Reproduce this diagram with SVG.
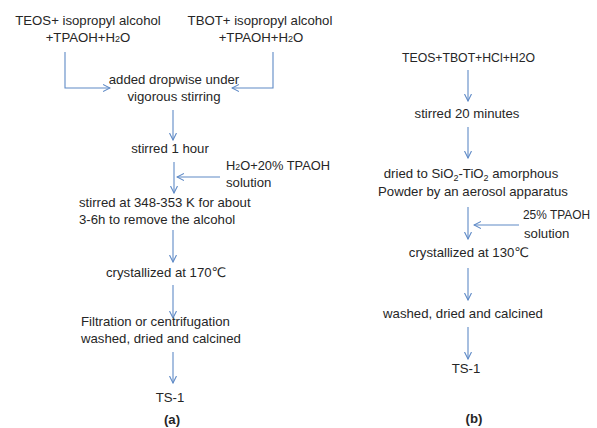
<svg xmlns="http://www.w3.org/2000/svg" width="597" height="428" viewBox="0 0 597 428">
<defs>
<style>
text{font-family:"Liberation Sans","DejaVu Sans",sans-serif;font-size:13.2px;fill:#262626}
.c{text-anchor:middle}
.b{font-weight:bold}
.s{font-size:9px}
.con path{fill:none;stroke:#5f8ac6;stroke-width:1.1}
</style>
<marker id="ah" viewBox="0 0 8 8" refX="7" refY="4" markerWidth="8" markerHeight="8" markerUnits="userSpaceOnUse" orient="auto">
<path d="M0,0.5 L7,4 L0,7.5" fill="none" stroke="#5f8ac6" stroke-width="1.1"/>
</marker>
</defs>
<rect width="597" height="428" fill="#fff"/>
<g class="con">
<path d="M65,52 V88 H110" marker-end="url(#ah)"/>
<path d="M273,52 V88 H232" marker-end="url(#ah)"/>
<path d="M173,110 V140" marker-end="url(#ah)"/>
<path d="M174,162 V193" marker-end="url(#ah)"/>
<path d="M220,177 H177" marker-end="url(#ah)"/>
<path d="M173,230 V262" marker-end="url(#ah)"/>
<path d="M173,285 V318" marker-end="url(#ah)"/>
<path d="M173,352 V383" marker-end="url(#ah)"/>
<path d="M468,70 V101" marker-end="url(#ah)"/>
<path d="M468,127 V158" marker-end="url(#ah)"/>
<path d="M468,207 V239" marker-end="url(#ah)"/>
<path d="M519,225 H474" marker-end="url(#ah)"/>
<path d="M468,268 V300" marker-end="url(#ah)"/>
<path d="M468,327 V359" marker-end="url(#ah)"/>
</g>
<g id="n-teos"><text class="c" x="88" y="25">TEOS+ isopropyl alcohol</text><text class="c" x="88" y="42">+TPAOH+H<tspan class="s">2</tspan>O</text></g>
<g id="n-tbot"><text class="c" x="260" y="25">TBOT+ isopropyl alcohol</text><text class="c" x="261" y="42">+TPAOH+H<tspan class="s">2</tspan>O</text></g>
<g id="n-drop"><text class="c" x="174" y="84">added dropwise under</text><text class="c" x="174" y="101">vigorous stirring</text></g>
<g id="n-stir1"><text class="c" x="170" y="153">stirred 1 hour</text></g>
<g id="n-h2o"><text x="226" y="170" textLength="104" lengthAdjust="spacingAndGlyphs">H<tspan class="s">2</tspan>O+20% TPAOH</text><text x="226" y="187">solution</text></g>
<g id="n-stir2"><text x="79" y="207">stirred at 348-353 K for about</text><text x="79" y="224">3-6h to remove the alcohol</text></g>
<g id="n-cry170"><text x="106" y="277">crystallized at 170℃</text></g>
<g id="n-filt"><text x="81" y="326">Filtration or centrifugation</text><text x="81" y="343">washed, dried and calcined</text></g>
<g id="n-ts1a"><text class="c" x="170" y="402">TS-1</text></g>
<g id="n-a"><text class="c b" x="172" y="424">(a)</text></g>
<g id="n-mix"><text x="402" y="62" textLength="133" lengthAdjust="spacingAndGlyphs">TEOS+TBOT+HCl+H2O</text></g>
<g id="n-stir20"><text class="c" x="467" y="118">stirred 20 minutes</text></g>
<g id="n-dried"><text class="c" x="471" y="178">dried to SiO<tspan class="s" dy="3">2</tspan><tspan dy="-3">-TiO</tspan><tspan class="s" dy="3">2</tspan><tspan dy="-3"> amorphous</tspan></text><text class="c" x="473" y="196">Powder by an aerosol apparatus</text></g>
<g id="n-tpaoh25"><text x="523" y="219" textLength="67" lengthAdjust="spacingAndGlyphs">25% TPAOH</text><text x="524" y="238">solution</text></g>
<g id="n-cry130"><text class="c" x="469" y="257">crystallized at 130℃</text></g>
<g id="n-wash"><text class="c" x="463" y="318">washed, dried and calcined</text></g>
<g id="n-ts1b"><text class="c" x="466" y="373">TS-1</text></g>
<g id="n-b"><text class="c b" x="474" y="423">(b)</text></g>
</svg>
